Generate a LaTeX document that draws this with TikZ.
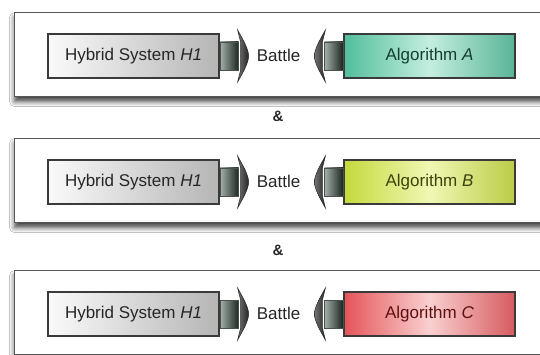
\documentclass[tikz,border=0pt]{standalone}
\usepackage{fontspec}
\setmainfont{Liberation Sans}
\usetikzlibrary{shadows.blur,calc}

\definecolor{framegray}{HTML}{555555}
\definecolor{boxline}{HTML}{3A3A3A}
\definecolor{htext}{HTML}{262626}
\definecolor{tealA}{HTML}{52BE9B}
\definecolor{tealAl}{HTML}{C4EEDF}
\definecolor{tealAt}{HTML}{153E32}
\definecolor{limeB}{HTML}{C4DA3C}
\definecolor{limeBl}{HTML}{F0F7B4}
\definecolor{limeBt}{HTML}{3C430A}
\definecolor{redC}{HTML}{E4545A}
\definecolor{redCl}{HTML}{FAD0D0}
\definecolor{redCt}{HTML}{5E1010}
\definecolor{arrowdark}{HTML}{1C2620}
\definecolor{arrowlight}{HTML}{A6B0AA}

\tikzset{
  panel/.style={draw=framegray, line width=1.1pt, fill=white,
    minimum width=560pt, minimum height=84pt, anchor=north west,
    blur shadow={shadow xshift=0pt, shadow yshift=-5pt,
      shadow blur radius=5pt, shadow opacity=75}},
  hybridbox/.style={draw=boxline, line width=1.2pt,
    left color=gray!4, right color=gray!58,
    minimum width=171pt, minimum height=44pt, inner sep=0pt,
    text=htext, font=\fontsize{17}{19}\selectfont},
  algobox/.style={draw=boxline, line width=1.2pt,
    minimum width=171pt, minimum height=44pt, inner sep=0pt,
    font=\fontsize{17}{19}\selectfont},
  battlelabel/.style={text=htext, font=\fontsize{17}{19}\selectfont},
  andlabel/.style={text=htext, font=\bfseries\fontsize{15}{17}\selectfont},
  battlearrow/.pic={
    % cylindrical shaft
    \shade[left color=arrowlight, right color=arrowdark, draw=arrowdark!80, line width=0.4pt]
      (0.5,-14) rectangle (19,14);
    % curved fin head
    \shade[left color=black!55, right color=black!85, draw=black!85, line width=0.5pt]
      (18,-26) .. controls (23,-17) and (29,-7) .. (29,0)
      .. controls (29,7) and (23,17) .. (18,26)
      -- (21,14) -- (21,-14) -- cycle;
  }
}

\begin{document}
\begin{tikzpicture}[x=1pt, y=-1pt]
  \useasboundingbox (0,0) rectangle (540,355);
  \fill[white] (0,0) rectangle (540,355);
  \clip (0,0) rectangle (540,355);

  % three battle panels
  \foreach \row/\top/\alg/\main/\light/\tcol in
     {1/12/A/tealA/tealAl/tealAt,
      2/138/B/limeB/limeBl/limeBt,
      3/270/C/redC/redCl/redCt}{
    \node[panel] (f\row) at (14,\top) {};
    \node[hybridbox] (h\row) at (133.5,\top+44) {Hybrid System \textit{H1}};
    \node[algobox, left color=\main, right color=\main!85!gray,
          middle color=\light, text=\tcol] (a\row) at (429.5,\top+44)
          {Algorithm \textit{\alg}};
    \node[battlelabel] (b\row) at (278.5,\top+43) {Battle};
    \pic at (h\row.east) {battlearrow};
    \pic[xscale=-1] at (a\row.west) {battlearrow};
  }

  % conjunctions between the panels
  \node[andlabel] (amp1) at (278,116) {\&};
  \node[andlabel] (amp2) at (278,250) {\&};
\end{tikzpicture}
\end{document}
